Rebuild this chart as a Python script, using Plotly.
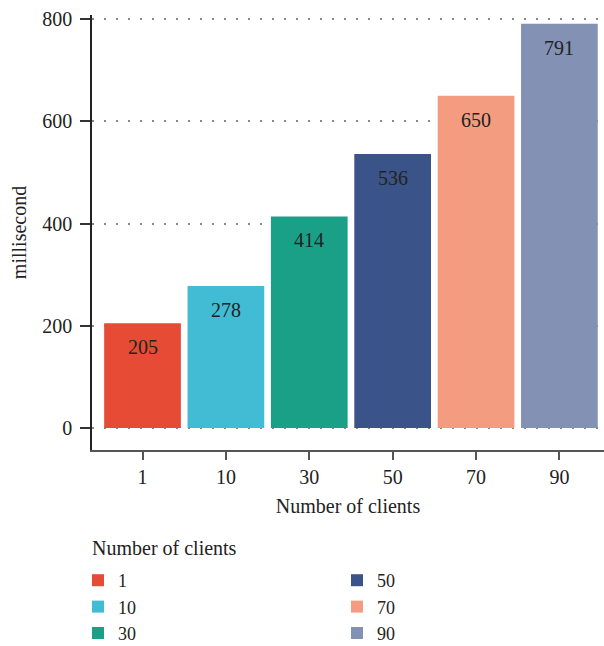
import plotly.graph_objects as go

# Response time per client count
clients = ["1", "10", "30", "50", "70", "90"]
latency_ms = [205, 278, 414, 536, 650, 791]
colors = ["#E64C35", "#42BBD4", "#1AA087", "#3A5489", "#F39C7F", "#8391B4"]
# legend ranks so the two-column legend reads top-to-bottom
legend_rank = [1, 3, 5, 2, 4, 6]
y_ticks = [0, 200, 400, 600, 800]

FONT = "Liberation Serif, Times New Roman, serif"
FS = 20

fig = go.Figure()
for i, (name, val, col, rank) in enumerate(zip(clients, latency_ms, colors, legend_rank)):
    fig.add_trace(go.Bar(
        x=[name], y=[val], name=name,
        marker=dict(color=col, line=dict(width=0)),
        width=0.92, legendrank=rank,
        hoverinfo="skip",
    ))
    # value label just inside the top of each bar
    fig.add_annotation(
        x=i, y=val, text=str(val), showarrow=False,
        yanchor="top", yshift=-11,
        font=dict(family=FONT, size=FS, color="#222222"),
    )

# legend heading
fig.add_annotation(
    xref="paper", yref="paper", x=-0.004, y=-0.2253,
    xanchor="left", yanchor="middle", showarrow=False,
    text="Number of clients", font=dict(family=FONT, size=FS, color="#222222"),
)

fig.update_layout(
    width=604, height=646,
    margin=dict(l=92, r=0, t=15, b=196, autoexpand=False),
    plot_bgcolor="white", paper_bgcolor="white",
    font=dict(family=FONT, size=FS, color="#222222"),
    barmode="overlay",
    showlegend=True,
    legend=dict(
        orientation="h",
        xref="paper", yref="paper",
        x=-0.0273, y=-0.2575, xanchor="left", yanchor="top",
        entrywidth=214, entrywidthmode="pixels",
        font=dict(size=18),
        tracegroupgap=0,
        itemclick=False,
    ),
    xaxis=dict(
        type="category",
        categoryorder="array", categoryarray=clients,
        range=[-0.606, 5.535],
        showline=True, linecolor="#555555", linewidth=1.5,
        ticks="outside", ticklen=8, tickcolor="#555555", tickwidth=1.5,
        showgrid=False, zeroline=False,
        tickfont=dict(size=FS),
        title=dict(text="Number of clients", font=dict(size=FS), standoff=12),
    ),
    yaxis=dict(
        range=[-43, 808],
        tickvals=y_ticks,
        showline=True, linecolor="#222222", linewidth=1.5,
        ticks="outside", ticklen=10, tickcolor="#333333", tickwidth=1.5,
        ticklabelstandoff=4,
        showgrid=True, gridcolor="#888888", gridwidth=1.5,
        griddash="2px,10px",
        zeroline=False,
        tickfont=dict(size=FS),
        title=dict(text="millisecond", font=dict(size=FS), standoff=10),
    ),
)

fig.write_html("out.html")
